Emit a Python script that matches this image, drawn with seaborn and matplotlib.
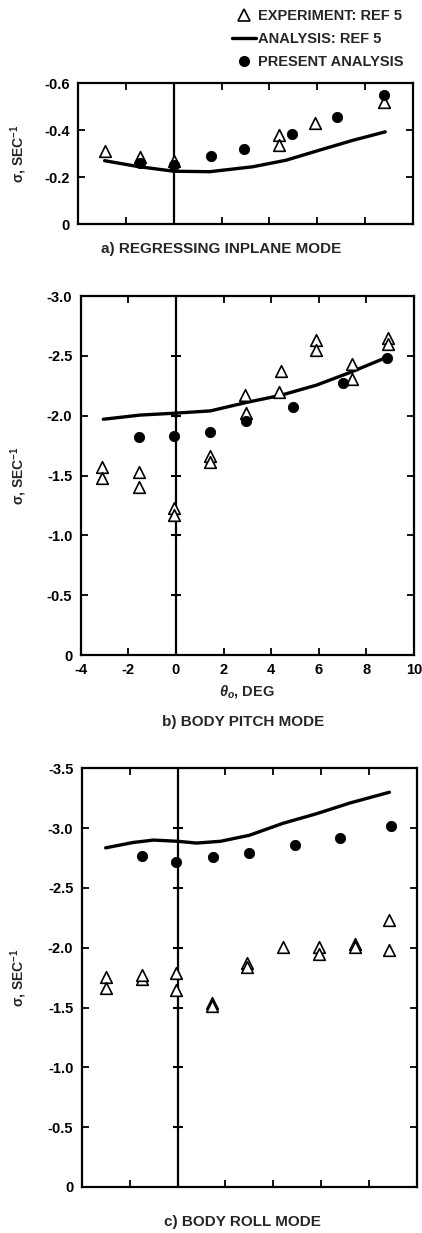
import numpy as np
import matplotlib
matplotlib.use("Agg")
import matplotlib.pyplot as plt
import seaborn as sns
from matplotlib.lines import Line2D

# a) regressing inplane mode
a_exp_x = [-2.9, -1.4, 0.0, 4.4, 4.4, 5.9, 8.8]
a_exp_y = [-0.31, -0.285, -0.27, -0.38, -0.335, -0.43, -0.52]
a_pres_x = [-1.4, 0.0, 1.55, 2.95, 4.95, 6.85, 8.8]
a_pres_y = [-0.26, -0.25, -0.29, -0.32, -0.385, -0.455, -0.55]
a_ana_x = [-2.9, -1.5, 0.0, 1.5, 3.3, 4.7, 6.1, 7.5, 8.85]
a_ana_y = [-0.27, -0.245, -0.225, -0.223, -0.244, -0.272, -0.315, -0.357, -0.393]

# b) body pitch mode
b_exp_x = [-3.1, -3.1, -1.55, -1.55, -0.1, -0.1, 1.45, 1.45, 2.9, 2.95,
           4.4, 4.35, 5.9, 5.9, 7.4, 7.4, 8.9, 8.9]
b_exp_y = [-1.57, -1.48, -1.53, -1.40, -1.23, -1.17, -1.66, -1.615, -2.17, -2.02,
           -2.37, -2.20, -2.63, -2.55, -2.43, -2.31, -2.65, -2.60]
b_pres_x = [-1.55, -0.1, 1.45, 2.95, 4.9, 7.0, 8.85]
b_pres_y = [-1.82, -1.83, -1.865, -1.955, -2.075, -2.27, -2.48]
b_ana_x = [-3.05, -1.5, -0.1, 1.45, 2.95, 4.4, 5.9, 7.3, 8.85]
b_ana_y = [-1.97, -2.005, -2.02, -2.04, -2.11, -2.17, -2.255, -2.36, -2.487]

# c) body roll mode
c_exp_x = [-3.0, -3.0, -1.5, -1.5, -0.05, -0.05, 1.45, 1.45, 2.9, 2.9,
           4.4, 5.9, 5.9, 7.4, 7.4, 8.85, 8.85]
c_exp_y = [-1.755, -1.66, -1.74, -1.77, -1.785, -1.645, -1.535, -1.515, -1.87, -1.835,
           -2.01, -2.01, -1.95, -2.03, -2.01, -2.23, -1.985]
c_pres_x = [-1.5, -0.05, 1.5, 3.0, 4.9, 6.8, 8.9]
c_pres_y = [-2.77, -2.72, -2.755, -2.79, -2.86, -2.92, -3.02]
c_ana_x = [-3.0, -1.85, -1.0, 0.0, 0.8, 1.8, 3.0, 4.4, 5.8, 7.2, 8.85]
c_ana_y = [-2.835, -2.88, -2.9, -2.89, -2.875, -2.89, -2.94, -3.04, -3.12, -3.21, -3.30]

x_ticks = [-4, -2, 0, 2, 4, 6, 8, 10]
a_yticks = [0, -0.2, -0.4, -0.6]
b_yticks = [0, -0.5, -1.0, -1.5, -2.0, -2.5, -3.0]
c_yticks = [0, -0.5, -1.0, -1.5, -2.0, -2.5, -3.0, -3.5]

sns.set_style("ticks")
plt.rcParams['font.family'] = ['Liberation Sans', 'DejaVu Sans']
plt.rcParams['font.weight'] = 'bold'
plt.rcParams['axes.unicode_minus'] = False
plt.rcParams['mathtext.fontset'] = 'custom'
plt.rcParams['mathtext.rm'] = 'Liberation Sans:bold'
plt.rcParams['mathtext.it'] = 'Liberation Sans:italic:bold'
plt.rcParams['mathtext.bf'] = 'Liberation Sans:bold'

W, H = 422, 1233
fig = plt.figure(figsize=(W / 100, H / 100), dpi=100)


def add_ax(l, t, r, b):
    return fig.add_axes([l / W, 1 - b / H, (r - l) / W, (b - t) / H])


def panel(ax, ex, ey, px, py, lx, ly, yticks, cross, xlabels, lab_px):
    ax.axvline(0, color='k', lw=1.6, zorder=1)
    if cross:
        ax.plot(np.zeros(len(yticks) - 2), yticks[1:-1], '_', ms=7, mew=1.5, color='k')
    sns.lineplot(x=lx, y=ly, color='k', lw=2.4, ax=ax, estimator=None, sort=False)
    sns.scatterplot(x=ex, y=ey, marker='^', s=70, color='white', edgecolor='black',
                    linewidth=1.2, ax=ax, zorder=3)
    sns.scatterplot(x=px, y=py, marker='o', s=55, color='black', edgecolor='black',
                    ax=ax, zorder=4)
    ax.set_xlim(-4, 10)
    ax.set_ylim(yticks[0], yticks[-1])
    ax.set_xticks(x_ticks)
    ax.set_yticks(yticks)
    ax.set_yticklabels([("%g" % t) if t == 0 else ("%.1f" % t) for t in yticks])
    if xlabels:
        ax.set_xticklabels([str(t) for t in x_ticks])
    else:
        ax.set_xticklabels([])
    ax.tick_params(direction='in', length=5, width=1.3, top=True, right=True,
                   labelsize=10.5, pad=6, colors='black')
    for s in ax.spines.values():
        s.set_linewidth(1.6)
        s.set_color('black')
    ax.set_xlabel("")
    ax.set_ylabel("σ, SEC$^{-1}$", fontsize=10, fontweight='bold')
    l, r = ax.get_position().x0 * W, ax.get_position().x1 * W
    ax.yaxis.set_label_coords((lab_px - l) / (r - l), 0.5)


ax_a = add_ax(78.3, 83.3, 412.7, 224)
ax_b = add_ax(80.7, 296, 414, 655)
ax_c = add_ax(81.7, 768.3, 417, 1187)

panel(ax_a, a_exp_x, a_exp_y, a_pres_x, a_pres_y, a_ana_x, a_ana_y, a_yticks, False, False, 29)
panel(ax_b, b_exp_x, b_exp_y, b_pres_x, b_pres_y, b_ana_x, b_ana_y, b_yticks, True, True, 29)
panel(ax_c, c_exp_x, c_exp_y, c_pres_x, c_pres_y, c_ana_x, c_ana_y, c_yticks, True, False, 29)

ax_b.set_xlabel(r"$\theta_o$, DEG", fontsize=10.5, fontweight='bold', labelpad=4)

fig.text(221 / W, 1 - 249 / H, "a) REGRESSING INPLANE MODE", ha='center', va='center',
         fontsize=11, fontweight='bold')
fig.text(243 / W, 1 - 722 / H, "b) BODY PITCH MODE", ha='center', va='center',
         fontsize=11, fontweight='bold')
fig.text(242 / W, 1 - 1222 / H, "c) BODY ROLL MODE", ha='center', va='center',
         fontsize=11, fontweight='bold')

handles = [
    Line2D([], [], marker='^', ls='none', ms=8, mfc='white', mec='black', mew=1.2),
    Line2D([], [], color='black', lw=2.4),
    Line2D([], [], marker='o', ls='none', ms=7, color='black'),
]
labels = ["EXPERIMENT: REF 5", "ANALYSIS: REF 5", "PRESENT ANALYSIS"]
fig.legend(handles, labels, loc='upper left', bbox_to_anchor=(222 / W, 1 + 1 / H),
           frameon=False, fontsize=10.5, handlelength=1.6, handletextpad=0.2,
           labelspacing=0.6, borderpad=0.2)

fig.savefig("out.png", dpi=100)
